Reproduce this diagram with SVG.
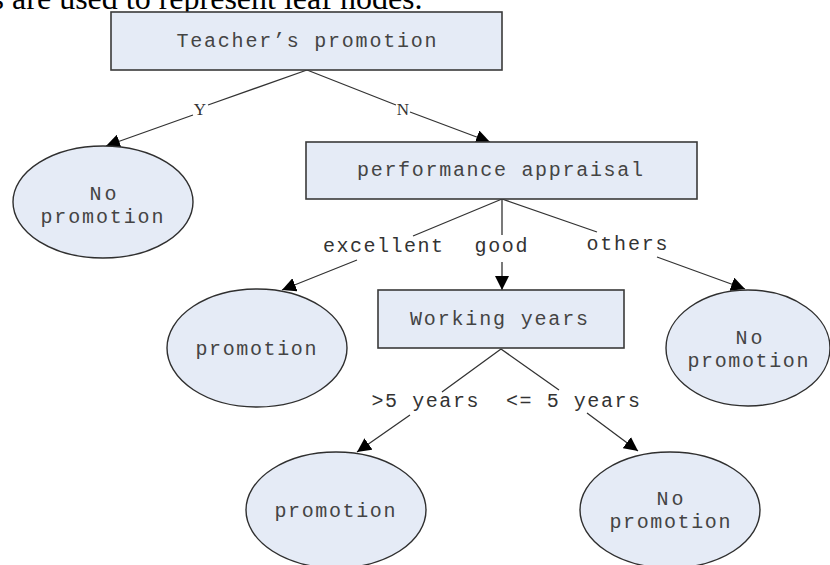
<svg xmlns="http://www.w3.org/2000/svg" width="830" height="565" viewBox="0 0 830 565">
<style>
.box{fill:#e5ebf6;stroke:#3a3a3a;stroke-width:1.6}
.leaf{fill:#e5ebf6;stroke:#2f2f2f;stroke-width:1.4}
.t{font-family:"Liberation Mono",monospace;font-size:20px;fill:#444;text-anchor:middle}
.lbl{font-family:"Liberation Mono",monospace;font-size:20px;fill:#333;text-anchor:middle}
.yn{font-family:"Liberation Serif",serif;font-size:17px;fill:#333;text-anchor:middle}
.edge{fill:none;stroke:#333;stroke-width:1.3;marker-end:url(#arr)}
.cap{font-family:"Liberation Serif",serif;font-size:32px;fill:#000}
</style>
<defs>
<marker id="arr" viewBox="0 0 14 14" refX="14" refY="7" markerWidth="14" markerHeight="14" markerUnits="userSpaceOnUse" orient="auto">
<path d="M0,0 L14,7 L0,14 z" fill="#000"/>
</marker>
</defs>
<text class="cap" x="-8.4" y="9">s are used to represent leaf nodes.</text>
<g id="connectors">
<path class="edge" d="M307,70 L208,105 M193,115 L106,146"/>
<text class="yn" x="200" y="115">Y</text>
<path class="edge" d="M307,70 L396,105 M410,112 L490,142"/>
<text class="yn" x="403" y="115">N</text>
<path class="edge" d="M502,199 L413,236 M357,260 L282,290"/>
<text class="lbl" x="383" y="252" textLength="120" lengthAdjust="spacing">excellent</text>
<path class="edge" d="M502,199 L502,235 M502,262 L502,290"/>
<text class="lbl" x="501" y="252" textLength="53" lengthAdjust="spacing">good</text>
<path class="edge" d="M502,199 L597,232 M657,257 L745,289"/>
<text class="lbl" x="627" y="250" textLength="81" lengthAdjust="spacing">others</text>
<path class="edge" d="M501,349 L442,392 M410,415 L357,452"/>
<text class="lbl" x="425" y="407" textLength="107" lengthAdjust="spacing">&gt;5 years</text>
<path class="edge" d="M501,349 L559,390 M587,413 L638,451"/>
<text class="lbl" x="573" y="407" textLength="134" lengthAdjust="spacing">&lt;= 5 years</text>
</g>
<g id="root">
<rect class="box" x="111" y="12" width="391" height="58"/>
<text class="t" x="306.5" y="47" textLength="260" lengthAdjust="spacing">Teacher’s promotion</text>
</g>
<g id="leafY">
<ellipse class="leaf" cx="103" cy="202" rx="90" ry="56"/>
<text class="t" x="103" y="200" textLength="27" lengthAdjust="spacing">No</text>
<text class="t" x="102" y="223" textLength="123" lengthAdjust="spacing">promotion</text>
</g>
<g id="perf">
<rect class="box" x="306" y="142" width="391" height="57"/>
<text class="t" x="500" y="176" textLength="286" lengthAdjust="spacing">performance appraisal</text>
</g>
<g id="leafExcellent">
<ellipse class="leaf" cx="257" cy="348" rx="90" ry="59"/>
<text class="t" x="256" y="355" textLength="121" lengthAdjust="spacing">promotion</text>
</g>
<g id="working">
<rect class="box" x="378" y="290" width="246" height="58"/>
<text class="t" x="499" y="325" textLength="178" lengthAdjust="spacing">Working years</text>
</g>
<g id="leafOthers">
<ellipse class="leaf" cx="748" cy="348" rx="82" ry="58"/>
<text class="t" x="749" y="344" textLength="27" lengthAdjust="spacing">No</text>
<text class="t" x="748" y="367" textLength="121" lengthAdjust="spacing">promotion</text>
</g>
<g id="leafMore5">
<ellipse class="leaf" cx="336" cy="510" rx="90" ry="58"/>
<text class="t" x="335" y="517" textLength="121" lengthAdjust="spacing">promotion</text>
</g>
<g id="leafLess5">
<ellipse class="leaf" cx="670" cy="510" rx="90" ry="58"/>
<text class="t" x="670" y="505" textLength="27" lengthAdjust="spacing">No</text>
<text class="t" x="670" y="528" textLength="121" lengthAdjust="spacing">promotion</text>
</g>
</svg>
